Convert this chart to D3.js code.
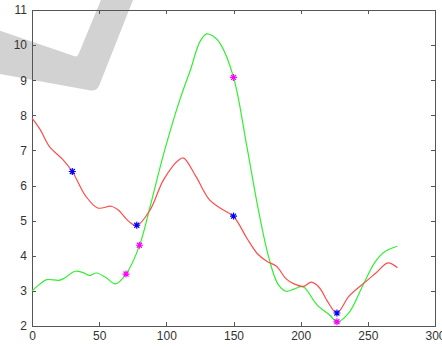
<!DOCTYPE html>
<html>
<head>
<meta charset="utf-8">
<script src="https://cdn.jsdelivr.net/npm/d3@7"></script>
<style>
  html, body { margin: 0; padding: 0; background: #fff; }
  svg { display: block; }
  .axis text { font-family: "Liberation Sans", Arial, sans-serif; font-size: 12px; fill: #333; }
  .axis path, .axis line { stroke: #555; shape-rendering: crispEdges; }
</style>
</head>
<body>
<svg id="chart" width="442" height="347"></svg>
<script>
// red series
const redX = [0, 6, 13, 23, 30, 40, 49, 59, 64, 72, 78, 88, 98, 110, 113, 122, 132, 140, 150, 160, 168, 175, 182, 189, 195, 202, 208, 214, 220, 227, 236, 248, 256, 265, 272];
const redY = [7.92, 7.6, 7.11, 6.74, 6.4, 5.7, 5.36, 5.41, 5.31, 4.98, 4.86, 5.31, 6.17, 6.75, 6.78, 6.26, 5.6, 5.36, 5.12, 4.5, 4.05, 3.84, 3.7, 3.35, 3.2, 3.13, 3.25, 3.09, 2.7, 2.37, 2.85, 3.25, 3.51, 3.8, 3.66];
// green series
const greenX = [0, 6, 11, 20, 24, 32, 38, 43, 48, 55, 62, 70, 80, 88, 98, 110, 118, 125, 130, 135, 140, 150, 160, 168, 176, 183, 189, 195, 200, 203, 212, 222, 227, 236, 246, 255, 262, 272];
const greenY = [3.0, 3.2, 3.32, 3.3, 3.36, 3.56, 3.52, 3.44, 3.51, 3.38, 3.2, 3.48, 4.29, 5.41, 6.9, 8.44, 9.3, 10.1, 10.32, 10.25, 10.05, 9.09, 7.1, 5.41, 3.99, 3.2, 2.99, 3.05, 3.12, 3.09, 2.61, 2.3, 2.11, 2.38, 3.13, 3.8, 4.1, 4.27];
// star markers
const blueX = [30, 78, 150, 227];
const blueY = [6.4, 4.87, 5.13, 2.37];
const magentaX = [70, 80, 150, 227];
const magentaY = [3.48, 4.3, 9.08, 2.12];
const xTicks = [0, 50, 100, 150, 200, 250, 300];
const yTicks = [2, 3, 4, 5, 6, 7, 8, 9, 10, 11];

const svg = d3.select('#chart');
const mLeft = 32, mRight = 435, mTop = 10, mBottom = 326;

// grey watermark behind everything
svg.append('path')
  .attr('d', 'M-5,29 L74,56 Q77,58 79,53 L103,-5 L135,-5 L99,86 Q96,92 88,90 L-5,73 Z')
  .attr('fill', '#d2d2d2');

const x = d3.scaleLinear().domain([0, 300]).range([mLeft, mRight]);
const y = d3.scaleLinear().domain([2, 11]).range([mBottom, mTop]);

svg.append('g').attr('class', 'axis').attr('transform', `translate(0,${mBottom})`)
  .call(d3.axisBottom(x).tickValues(xTicks).tickSizeInner(-4).tickSizeOuter(0).tickPadding(5));
svg.append('g').attr('class', 'axis').attr('transform', `translate(0,${mTop})`)
  .call(d3.axisTop(x).tickValues(xTicks).tickSizeInner(-4).tickSizeOuter(0).tickFormat(''));
svg.append('g').attr('class', 'axis').attr('transform', `translate(${mLeft},0)`)
  .call(d3.axisLeft(y).tickValues(yTicks).tickSizeInner(-4).tickSizeOuter(0).tickPadding(5));
svg.append('g').attr('class', 'axis').attr('transform', `translate(${mRight},0)`)
  .call(d3.axisRight(y).tickValues(yTicks).tickSizeInner(-4).tickSizeOuter(0).tickFormat(''));

const line = d3.line().x(d => x(d[0])).y(d => y(d[1])).curve(d3.curveCatmullRom.alpha(0.5));

svg.append('path').datum(greenX.map((v, i) => [v, greenY[i]]))
  .attr('d', line).attr('fill', 'none').attr('stroke', '#33ee33').attr('stroke-width', 1.2);
svg.append('path').datum(redX.map((v, i) => [v, redY[i]]))
  .attr('d', line).attr('fill', 'none').attr('stroke', '#ff4c4c').attr('stroke-width', 1.2);

const r = 3.5, k = 2.5;
const star = `M${-r},0H${r}M0,${-r}V${r}M${-k},${-k}L${k},${k}M${-k},${k}L${k},${-k}`;
function stars(xs, ys, color) {
  svg.append('g').selectAll('path').data(xs.map((v, i) => [v, ys[i]])).join('path')
    .attr('transform', d => `translate(${x(d[0])},${y(d[1])})`)
    .attr('d', star).attr('fill', 'none').attr('stroke', color).attr('stroke-width', 1.2);
}
stars(blueX, blueY, '#0000ff');
stars(magentaX, magentaY, '#ff00ff');
</script>
</body>
</html>
